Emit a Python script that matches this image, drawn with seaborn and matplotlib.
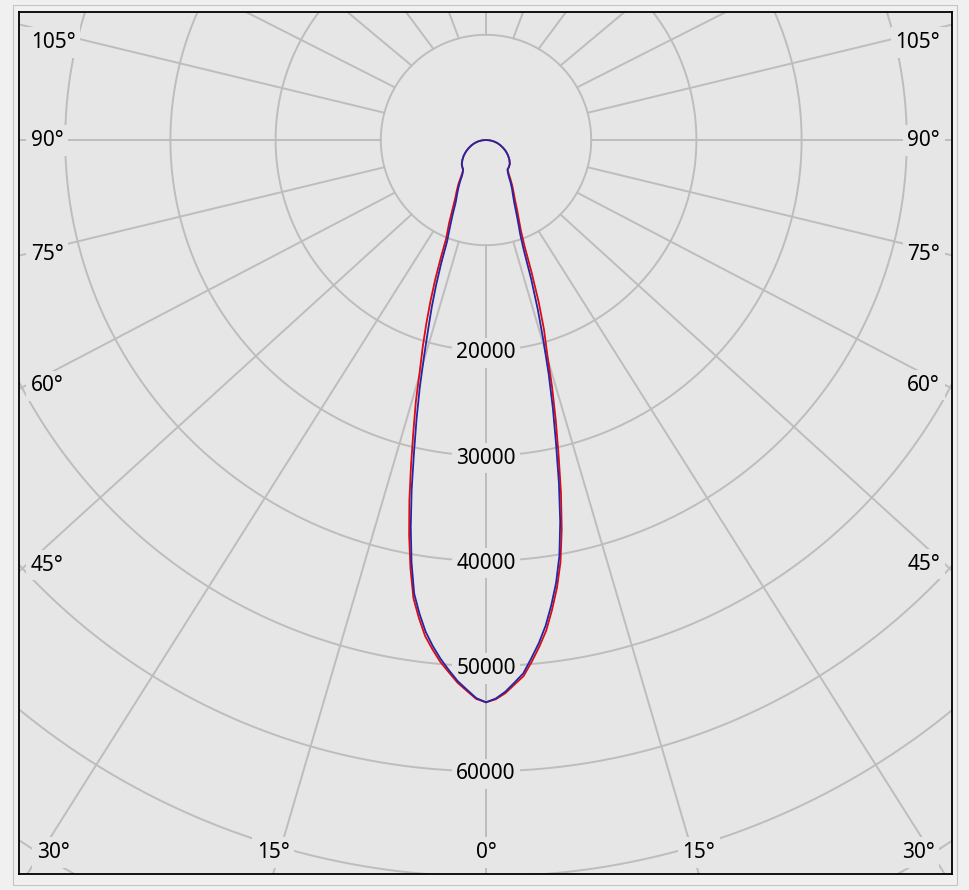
import numpy as np
import pandas as pd
import seaborn as sns
import matplotlib.pyplot as plt
from matplotlib.patches import Rectangle

# Lichtstaerkeverteilung (cd) ueber dem Ausstrahlungswinkel gamma (Grad)
gamma = [0, 1, 2, 3, 4, 5, 6, 7, 8, 9, 10, 11, 12, 13, 14, 15, 16, 17, 18, 19, 20, 21, 22,
         24, 26, 28, 30, 32, 34, 36, 38, 40, 45, 50, 55, 60, 65, 70, 75, 80, 85, 90, 180]
# rote Kurve: C0 (rechts) / C180 (links)
c0 = [53450, 53170, 52620, 51830, 51090, 49800, 48440, 46980, 45100, 43110, 40770, 37720,
      34280, 30650, 27380, 24230, 21060, 18870, 16230, 13300, 10660, 9310, 8490,
      7275, 6255, 5565, 4975, 4385, 3850, 3520, 3420, 3380, 3200, 2900, 2560, 2200, 1820,
      1460, 1110, 750, 380, 0, 0]
c180 = [53450, 53140, 52390, 51660, 50720, 49800, 48690, 47500, 45870, 44100, 41350, 38300,
        35040, 31670, 28520, 25780, 22820, 20580, 18370, 16240, 14120, 12000, 10120,
        8600, 7190, 6200, 5550, 4950, 4290, 3800, 3540, 3470, 3260, 2930, 2580, 2200, 1820,
        1460, 1110, 750, 380, 0, 0]
# blaue Kurve: C90 (rechts) / C270 (links)
c90 = [53450, 53100, 52480, 51650, 50820, 49450, 48080, 46510, 44630, 42600, 40160, 36960,
       33340, 29580, 26280, 23010, 19750, 16820, 13890, 10950, 9480, 8640, 7900,
       6650, 5860, 5270, 4680, 4090, 3715, 3460, 3420, 3380, 3200, 2900, 2560, 2200, 1820,
       1460, 1110, 750, 380, 0, 0]
c270 = [53450, 53060, 52270, 51500, 50520, 49510, 48370, 47090, 45460, 43650, 40770, 37480,
        34000, 30410, 27260, 24300, 21340, 18790, 16670, 14540, 12420, 10300, 9380,
        7830, 6550, 5850, 5250, 4650, 4050, 3740, 3540, 3470, 3260, 2930, 2580, 2200, 1820,
        1460, 1110, 750, 380, 0, 0]

ring_values = [10000, 20000, 30000, 40000, 50000, 60000, 70000, 80000]
ring_labels = [20000, 30000, 40000, 50000, 60000]
grid_angles = [0, 15, 30, 45, 60, 75, 90, 105, 120, 135, 150, 165, 180]
angle_labels = [0, 15, 30, 45, 60, 75, 90, 105]

# Layout in Pixeln
W, H = 969, 890
px = 10000 / 105.2                   # cd pro Pixel
x0, x1, y0, y1 = 19, 952, 12, 874    # Diagrammrahmen
cx, cy = 486, 140                    # Mittelpunkt

xmin, xmax = (x0 - cx) * px, (x1 - cx) * px
ymin, ymax = -(y1 - cy) * px, (cy - y0) * px
k = (ymax - ymin) / (xmax - xmin)

bg = "#e6e6e6"
grid_c = "#bdbdbd"
fs = 15

sns.set_style("white", {"axes.facecolor": bg, "axes.edgecolor": "black"})
plt.rcParams["font.family"] = ["Noto Sans", "DejaVu Sans"]
plt.rcParams["text.color"] = "black"

fig = plt.figure(figsize=(W / 100, H / 100), dpi=100, facecolor="#f0f0f0")
ax = fig.add_axes([x0 / W, 1 - y1 / H, (x1 - x0) / W, (y1 - y0) / H])
fig.patches.append(Rectangle((13 / W, 1 - 885 / H), 944 / W, 880 / H, transform=fig.transFigure,
                             fill=False, ec="#c4c4c4", lw=0.8))

# Kreise
t = np.linspace(0, 2 * np.pi, 721)
for r in ring_values:
    ax.plot(r * np.cos(t), r * np.sin(t), color=grid_c, lw=1.4, zorder=1)


def edge_point(dx, dy):
    ts = []
    if dx > 1e-9:
        ts.append(xmax / dx)
    if dx < -1e-9:
        ts.append(xmin / dx)
    if dy > 1e-9:
        ts.append(ymax / dy)
    if dy < -1e-9:
        ts.append(ymin / dy)
    tt = min(ts)
    return tt * dx, tt * dy


# Strahlen
for a in grid_angles:
    g = np.radians(a)
    for side in (1, -1):
        sx, sy = side * ring_values[0] * np.sin(g), -ring_values[0] * np.cos(g)
        ex, ey = edge_point(side * np.sin(g), -k * np.cos(g))
        ax.plot([sx, ex], [sy, ey], color=grid_c, lw=1.4, zorder=1)

box = dict(boxstyle="square,pad=0.22", fc=bg, ec="none")
for v in ring_labels:
    ax.text(0, -v - 2.5 * px, str(v), ha="center", va="center", fontsize=fs,
            color="black", bbox=box, zorder=2)

for a in angle_labels:
    g = np.radians(a)
    for side in ((1, -1) if a else (1,)):
        ex, ey = edge_point(side * np.sin(g), -k * np.cos(g))
        if ey > ymin + 1:
            x = xmax - 12 * px if side > 0 else xmin + 12 * px
            ha = "right" if side > 0 else "left"
            y = min(max(0.984 * ey + 2 * px, ymin + 24 * px), ymax - 28 * px)
        else:
            x = min(max(ex, xmin + 34 * px), xmax - 34 * px)
            ha = "center"
            y = ymin + 24 * px
        ax.text(x, y - 2.5 * px, f"{a}°", ha=ha, va="center", fontsize=fs,
                color="black", bbox=box, zorder=2)

# Lichtstaerkekurven
gr = np.radians(gamma)


def loop(right, left):
    right, left = np.array(right, float), np.array(left, float)
    xs = np.r_[right * np.sin(gr), (-left * np.sin(gr))[::-1]]
    ys = np.r_[-right * np.cos(gr), (-left * np.cos(gr))[::-1]]
    return pd.DataFrame({"x": xs, "y": ys})


sns.lineplot(data=loop(c0, c180), x="x", y="y", sort=False, estimator=None,
             color="#dc0a14", lw=1.3, ax=ax, zorder=3)
sns.lineplot(data=loop(c90, c270), x="x", y="y", sort=False, estimator=None,
             color="#2626a4", lw=1.3, ax=ax, zorder=4)

ax.set_xlim(xmin, xmax)
ax.set_ylim(ymin, ymax)
ax.set_xticks([])
ax.set_yticks([])
ax.set_xlabel("")
ax.set_ylabel("")
for s in ax.spines.values():
    s.set_linewidth(1.3)

fig.savefig("out.png", dpi=100, facecolor=fig.get_facecolor())
